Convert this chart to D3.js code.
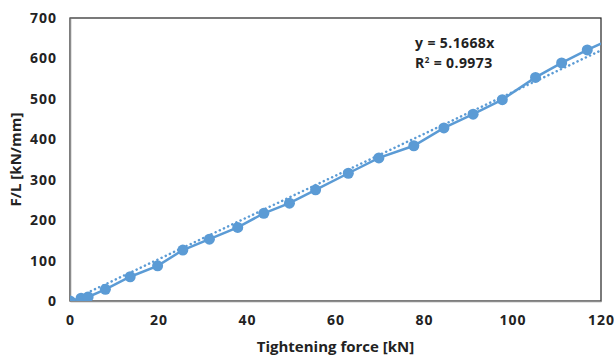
<!DOCTYPE html>
<html lang="en">
<head>
<meta charset="UTF-8">
<title>F/L vs tightening force</title>
<style>
  body { margin: 0; background: #fff; }
  svg text { font-family: "Open Sans", "DejaVu Sans", sans-serif; font-weight: bold; fill: #222; }
</style>
</head>
<body>
<div id="chart"></div>
<script src="https://d3js.org/d3.v7.min.js"></script>
<script>
// measured points (tightening force kN, F/L kN/mm)
const forceKN = [0, 2.5, 4.1, 8, 13.6, 19.8, 25.5, 31.5, 37.9, 43.8, 49.6, 55.5, 62.9, 69.8, 77.7, 84.5, 91.1, 97.7, 105.2, 111.1, 116.9, 123]
const stiffness = [0, 7, 10, 29, 60, 87, 126, 153, 182, 217, 242, 275, 316, 354, 384, 428, 462, 498, 553, 589, 621, 652]
const xTicks = [0, 20, 40, 60, 80, 100, 120]
const yTicks = [0, 100, 200, 300, 400, 500, 600, 700]
const slope = 5.1668
const r2Text = '0.9973'

const width = 614
const height = 358
const margin = { top: 18, right: 13, bottom: 57, left: 70 }

const svg = d3.select('#chart').append('svg')
    .attr('width', width)
    .attr('height', height)

const x = d3.scaleLinear().domain([0, 120]).range([margin.left, width - margin.right])
const y = d3.scaleLinear().domain([0, 700]).range([height - margin.bottom, margin.top])

const data = forceKN.map((f, i) => ({ f, s: stiffness[i] }))

svg.append('clipPath').attr('id', 'plot-clip')
    .append('rect')
    .attr('x', x(0)).attr('y', y(700))
    .attr('width', x(120) - x(0)).attr('height', y(0) - y(700))

// plot frame
svg.append('rect')
    .attr('x', x(0)).attr('y', y(700))
    .attr('width', x(120) - x(0)).attr('height', y(0) - y(700))
    .attr('fill', 'none').attr('stroke', '#222').attr('stroke-width', 1.2)

// axes (grey, no ticks)
const xAxis = d3.axisBottom(x).tickValues(xTicks).tickSize(0).tickPadding(14)
const yAxis = d3.axisLeft(y).tickValues(yTicks).tickSize(0).tickPadding(13)

svg.append('g').attr('transform', `translate(0,${y(0)})`).call(xAxis)
    .call(g => g.select('.domain').attr('stroke', '#8c8c8c').attr('stroke-width', 1.5))
    .call(g => g.selectAll('text').attr('font-size', 14).attr('letter-spacing', 1).attr('fill', '#222'))
svg.append('g').attr('transform', `translate(${x(0)},0)`).call(yAxis)
    .call(g => g.select('.domain').attr('stroke', '#8c8c8c').attr('stroke-width', 1.5))
    .call(g => g.selectAll('text').attr('font-size', 14).attr('letter-spacing', 1).attr('fill', '#222'))

const plot = svg.append('g').attr('clip-path', 'url(#plot-clip)')

// linear trendline through origin
plot.append('line')
    .attr('x1', x(0)).attr('y1', y(0))
    .attr('x2', x(120)).attr('y2', y(slope * 120))
    .attr('stroke', '#5b9bd5').attr('stroke-width', 2.5)
    .attr('stroke-dasharray', '0.1 4.5').attr('stroke-linecap', 'round')

const line = d3.line().x(d => x(d.f)).y(d => y(d.s))
plot.append('path').datum(data)
    .attr('d', line)
    .attr('fill', 'none').attr('stroke', '#5b9bd5').attr('stroke-width', 2.5)

plot.selectAll('circle').data(data).enter().append('circle')
    .attr('cx', d => x(d.f)).attr('cy', d => y(d.s))
    .attr('r', 5.5).attr('fill', '#5b9bd5')

// equation label
const eq = svg.append('text').attr('x', 415).attr('y', 48).attr('font-size', 14).attr('letter-spacing', 0.4)
eq.text(`y = ${slope}x`)
const r2 = svg.append('text').attr('x', 415).attr('y', 68).attr('font-size', 14).attr('letter-spacing', 0.4)
r2.append('tspan').text('R')
r2.append('tspan').attr('dy', -5).attr('font-size', 8).text('2')
r2.append('tspan').attr('dy', 5).text(` = ${r2Text}`)

// axis titles
svg.append('text')
    .attr('x', (x(0) + x(120)) / 2).attr('y', 352)
    .attr('text-anchor', 'middle').attr('font-size', 15)
    .text('Tightening force [kN]')
svg.append('text')
    .attr('transform', `translate(21,${(y(0) + y(700)) / 2}) rotate(-90)`)
    .attr('text-anchor', 'middle').attr('font-size', 15)
    .text('F/L [kN/mm]')
</script>
</body>
</html>
